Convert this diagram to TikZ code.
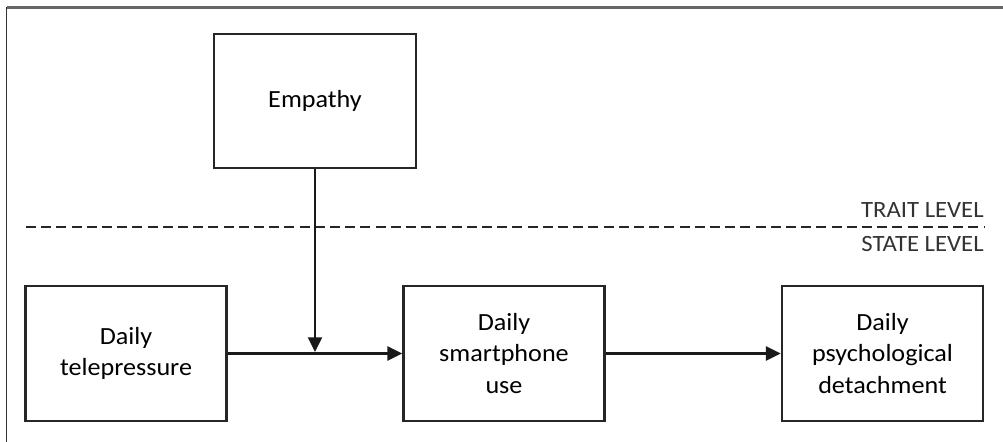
\documentclass[tikz,border=0pt]{standalone}
\usepackage{fontspec}
\setmainfont{Carlito}[FakeStretch=1.06]
\usetikzlibrary{arrows.meta}
\begin{document}
\begin{tikzpicture}[x=0.75pt,y=-0.75pt,
  box/.style={draw=black!85,line width=1.8pt,inner sep=0pt,align=center,
    minimum width=151pt,minimum height=101pt,
    font=\fontsize{18.5}{23.5}\selectfont},
  conn/.style={line width=1.8pt,draw=black!90,-{Triangle[length=11pt,width=10.5pt]}},
  lvl/.style={inner sep=0pt,anchor=base east,font=\fontsize{17.5}{18}\selectfont,text=black!80},
  frametop/.style={draw=black!60,line width=1.8pt},
  frameleft/.style={draw=black!80,line width=1.3pt}]
\useasboundingbox (0,0) rectangle (1003,442);
% frame
\coordinate (ftl) at (6.5,7.5);
\coordinate (ftr) at (1003,7.5);
\coordinate (fbl) at (6.5,442);
\draw[frametop] (ftl) -- (ftr);
\draw[frameleft] (ftl) -- (fbl);
% boxes
\node[box,minimum width=151.5pt,minimum height=100.5pt] (emp) at (315,101) {Empathy};
\node[box] (tele) at (126,353.5) {Daily\\telepressure};
\node[box] (smart) at (504,353.5) {Daily\\smartphone\\use};
\node[box] (detach) at (882.5,353.5) {Daily\\psychological\\detachment};
% level separator
\coordinate (dl) at (26,227);
\coordinate (dr) at (984,227);
\draw[line width=1.7pt,draw=black!85,dash pattern=on 7.5pt off 3.9pt] (dl) -- (dr);
\node[lvl] (trait) at (984,218) {TRAIT LEVEL};
\node[lvl] (state) at (984,251) {STATE LEVEL};
% connectors
\draw[conn] (tele.east) -- (smart.west);
\draw[conn] (smart.east) -- (detach.west);
\coordinate (mod) at (315,352);
\draw[conn,line width=1.4pt] (emp.south) -- (mod);
\end{tikzpicture}
\end{document}
